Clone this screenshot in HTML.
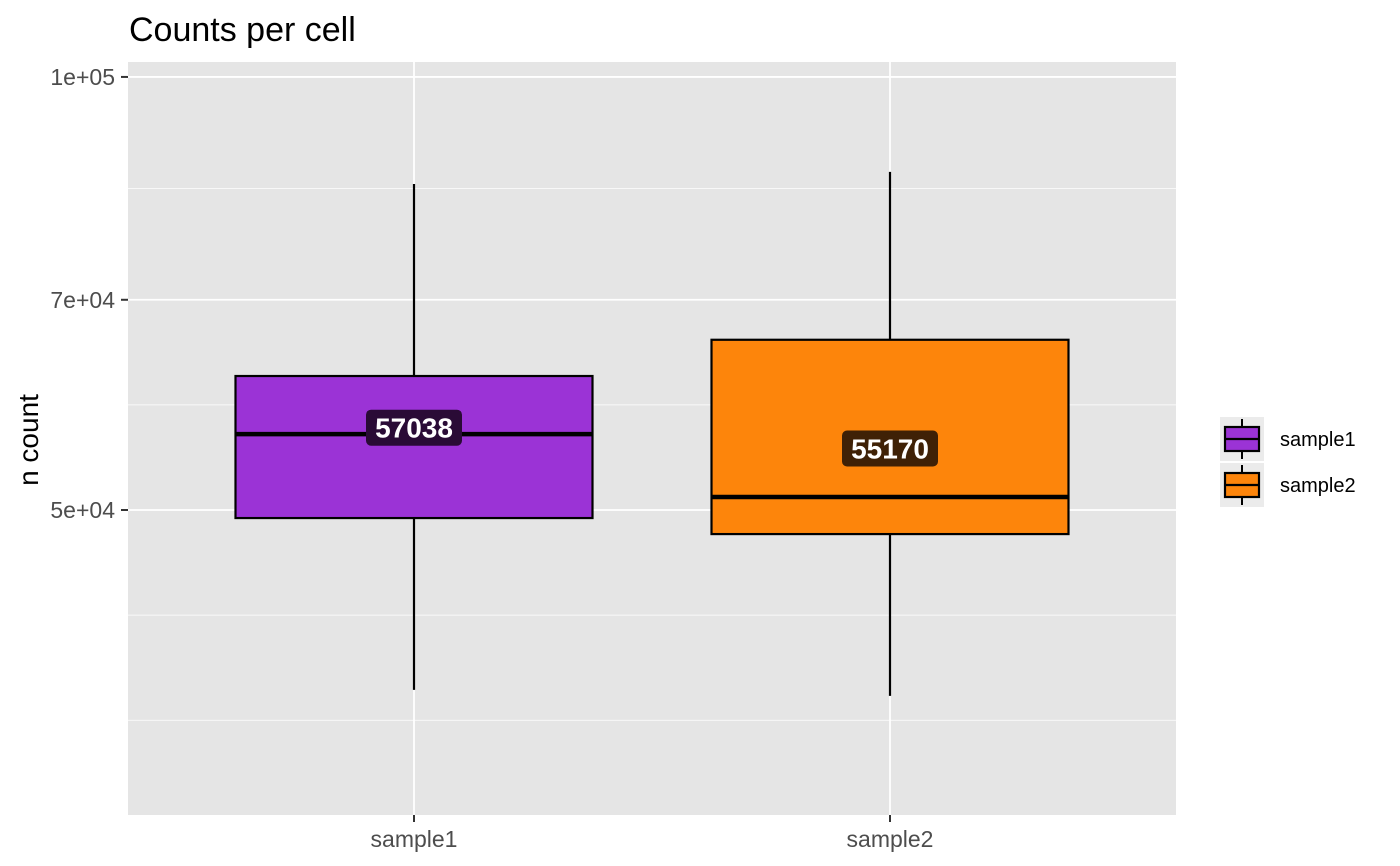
<!DOCTYPE html>
<html><head><meta charset="utf-8">
<style>
body{margin:0;background:#fff;}
svg{display:block;font-family:"Liberation Sans",Arial,sans-serif;}
</style></head>
<body>
<svg id="chart" width="1400" height="866" viewBox="0 0 1400 866">
<text x="129" y="41" font-size="34" fill="#000">Counts per cell</text>
<rect x="128" y="62" width="1048" height="753" fill="#e5e5e5"/>
<g id="grid"></g>
<g id="boxes"></g>
<g id="axes"></g>
<text transform="translate(38,440) rotate(-90)" text-anchor="middle" font-size="28" fill="#000">n count</text>
<g id="legend"></g>
</svg>
<script>
const categories = ["sample1","sample2"];
const whiskerLow = [37490, 37130];
const q1 = [49360, 48110];
const medians = [56460, 51050];
const q3 = [61960, 65660];
const whiskerHigh = [84260, 85900];
const meanLabels = [57038, 55170];
const yTicks = [50000, 70000, 100000];
const yTickLabels = ["5e+04","7e+04","1e+05"];
const colors = ["#9b33d6","#fd850b"];
const labelFills = ["#2a0b36","#3f2106"];

const NS="http://www.w3.org/2000/svg";
const y = v => 510 - (Math.log10(v) - Math.log10(50000)) * 1438.6;
const x = i => 414 + i * 476;
const step = 476, boxW = step * 0.75;
function mk(tag, attrs, parent){const e=document.createElementNS(NS,tag);for(const k in attrs)e.setAttribute(k,attrs[k]);parent.appendChild(e);return e;}
const grid=document.getElementById('grid'), boxes=document.getElementById('boxes'), axes=document.getElementById('axes'), legend=document.getElementById('legend');

const lt = yTicks.map(v=>Math.log10(v));
const d0 = lt[1]-lt[0];
const minors = [lt[0]-d0, lt[0]-0.5*d0, (lt[0]+lt[1])/2, (lt[1]+lt[2])/2];
minors.forEach(l=>{const yy=y(Math.pow(10,l)); if(yy>62&&yy<815){
  const ln=mk('line',{x1:128,x2:1176,y1:yy,y2:yy,stroke:'#fff','stroke-width':0.8},grid);
  
  
}});
yTicks.forEach((v,i)=>{
  const yy=y(v);
  const ln=mk('line',{x1:128,x2:1176,y1:yy,y2:yy,stroke:'#fff','stroke-width':1.8},grid);
  
  
  const tk=mk('line',{x1:121,x2:128,y1:yy,y2:yy,stroke:'#333','stroke-width':2},axes);
  
  
  const t=mk('text',{x:115,y:yy+8,'text-anchor':'end','font-size':23,fill:'#4d4d4d'},axes);
  t.textContent=yTickLabels[i];
  
  
});
categories.forEach((c,i)=>{
  const cx=x(i);
  const vl=mk('line',{x1:cx,x2:cx,y1:62,y2:815,stroke:'#fff','stroke-width':1.8},grid);
  
  
  const g=mk('g',{},boxes);
  
  
  mk('line',{x1:cx,x2:cx,y1:y(whiskerHigh[i]),y2:y(q3[i]),stroke:'#000','stroke-width':2.2},g);
  mk('line',{x1:cx,x2:cx,y1:y(q1[i]),y2:y(whiskerLow[i]),stroke:'#000','stroke-width':2.2},g);
  mk('rect',{x:cx-boxW/2,y:y(q3[i]),width:boxW,height:y(q1[i])-y(q3[i]),fill:colors[i],stroke:'#000','stroke-width':2.2},g);
  mk('line',{x1:cx-boxW/2,x2:cx+boxW/2,y1:y(medians[i]),y2:y(medians[i]),stroke:'#000','stroke-width':4.5},g);
  const ly=y(meanLabels[i]);
  const lb=mk('rect',{x:cx-48,y:ly-18,width:96,height:36,rx:5,fill:labelFills[i]},g);
  
  
  const lt2=mk('text',{x:cx,y:ly+10,'text-anchor':'middle','font-size':28,'font-weight':'bold',fill:'#fff'},g);
  lt2.textContent=meanLabels[i];
  
  
  const tk=mk('line',{x1:cx,x2:cx,y1:815,y2:822,stroke:'#333','stroke-width':2},axes);
  
  
  const xt=mk('text',{x:cx,y:847,'text-anchor':'middle','font-size':23,fill:'#4d4d4d'},axes);
  xt.textContent=c;
  
  
  const ky=417+i*46;
  const lg=mk('g',{},legend);
  
  
  mk('rect',{x:1220,y:ky,width:44,height:44,fill:'#ebebeb'},lg);
  mk('line',{x1:1242,x2:1242,y1:ky+2,y2:ky+42,stroke:'#000','stroke-width':2},lg);
  mk('rect',{x:1225,y:ky+10,width:34,height:24,fill:colors[i],stroke:'#000','stroke-width':2.2},lg);
  mk('line',{x1:1225,x2:1259,y1:ky+22,y2:ky+22,stroke:'#000','stroke-width':2.2},lg);
  const tt=mk('text',{x:1280,y:ky+29,'font-size':20,fill:'#000'},lg);
  tt.textContent=c;
});
</script>
</body></html>
